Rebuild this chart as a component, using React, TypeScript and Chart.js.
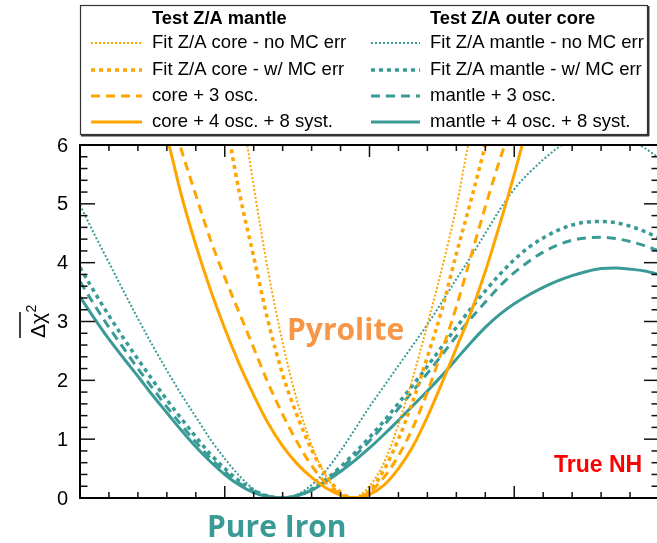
import React, { useEffect, useRef } from 'react';
import { Chart, registerables } from 'chart.js';

Chart.register(...registerables);

// ---------------- data ----------------
const X_MIN = 0;
const X_MAX = 20;
const Y_MIN = 0;
const Y_MAX = 6;
const yTickLabels = ['0', '1', '2', '3', '4', '5', '6'];

const legendHeaders = ['Test Z/A mantle', 'Test Z/A outer core'];
const coreLabels = ['Fit Z/A core - no MC err', 'Fit Z/A core - w/ MC err', 'core + 3 osc.', 'core + 4 osc. + 8 syst.'];
const mantleLabels = ['Fit Z/A mantle - no MC err', 'Fit Z/A mantle - w/ MC err', 'mantle + 3 osc.', 'mantle + 4 osc. + 8 syst.'];

// Test Z/A mantle (orange) curves
const coreNoMcX = [5.6, 5.78, 6.0, 6.5, 7.0, 7.5, 8.0, 8.5, 9.0, 9.4, 10.0, 10.5, 11.0, 11.5, 12.0, 12.5, 13.0, 13.41, 13.7];
const coreNoMcY = [6.6, 6.0, 5.3, 3.85, 2.64, 1.65, 0.9, 0.37, 0.07, 0.0, 0.2, 0.6, 1.25, 2.05, 2.95, 3.9, 4.95, 6.0, 6.6];

const coreMcX = [5.0, 5.2, 5.5, 6.0, 6.5, 7.0, 7.5, 8.0, 8.5, 9.0, 9.45, 10.0, 10.5, 11.0, 11.5, 12.0, 12.5, 13.0, 13.5, 14.0, 14.3];
const coreMcY = [6.6, 6.0, 5.2, 4.1, 3.0, 2.1, 1.4, 0.82, 0.38, 0.1, 0.0, 0.12, 0.48, 1.0, 1.65, 2.4, 3.2, 4.15, 5.05, 6.0, 6.6];

const core3X = [3.2, 3.45, 4.0, 4.5, 5.0, 5.5, 6.0, 6.5, 7.0, 7.5, 8.0, 8.5, 9.0, 9.45, 10.0, 10.5, 11.0, 11.5, 12.0, 12.5, 13.0, 13.5, 14.0, 14.5, 14.7, 15.0];
const core3Y = [6.45, 6.0, 5.15, 4.4, 3.75, 3.15, 2.55, 1.95, 1.42, 0.95, 0.55, 0.25, 0.06, 0.0, 0.1, 0.35, 0.72, 1.2, 1.8, 2.5, 3.25, 4.1, 4.95, 5.75, 6.05, 6.6];

const core4X = [2.8, 3.1, 3.5, 4.0, 4.5, 5.0, 5.5, 6.0, 6.5, 7.0, 7.5, 8.0, 8.5, 9.0, 9.57, 10.0, 10.5, 11.0, 11.5, 12.0, 12.5, 13.0, 13.5, 14.0, 14.5, 15.0, 15.3, 15.6];
const core4Y = [6.5, 5.95, 5.15, 4.3, 3.55, 2.88, 2.28, 1.75, 1.27, 0.88, 0.58, 0.35, 0.17, 0.05, 0.0, 0.06, 0.22, 0.5, 0.88, 1.38, 1.95, 2.55, 3.15, 3.85, 4.65, 5.5, 6.05, 6.6];

// Test Z/A outer core (teal) curves
const mantleX = [0, 0.5, 1, 1.5, 2, 2.5, 3, 3.5, 4, 4.5, 5, 5.5, 6, 6.5, 7, 7.5, 8, 8.5, 9, 9.5, 10, 10.5, 11, 11.5, 12, 12.5, 13, 13.5, 14, 14.5, 15, 15.5, 16, 16.5, 17, 17.5, 18, 18.5, 19, 19.5, 20];
const mantleNoMcY = [4.98, 4.48, 4.0, 3.52, 3.05, 2.6, 2.17, 1.76, 1.38, 1.0, 0.67, 0.38, 0.15, 0.03, 0.0, 0.06, 0.22, 0.47, 0.8, 1.17, 1.55, 1.9, 2.25, 2.6, 2.95, 3.33, 3.72, 4.1, 4.5, 4.9, 5.25, 5.52, 5.75, 5.95, 6.1, 6.2, 6.25, 6.22, 6.1, 5.95, 5.78];
const mantleMcY = [3.92, 3.5, 3.1, 2.72, 2.36, 2.01, 1.67, 1.35, 1.04, 0.75, 0.5, 0.29, 0.13, 0.03, 0.0, 0.04, 0.15, 0.32, 0.53, 0.77, 1.03, 1.31, 1.61, 1.92, 2.24, 2.57, 2.9, 3.22, 3.52, 3.8, 4.05, 4.26, 4.42, 4.55, 4.64, 4.69, 4.7, 4.68, 4.62, 4.53, 4.42];
const mantle3Y = [3.68, 3.28, 2.9, 2.55, 2.2, 1.87, 1.55, 1.24, 0.95, 0.68, 0.45, 0.25, 0.11, 0.03, 0.0, 0.04, 0.14, 0.3, 0.5, 0.72, 0.97, 1.24, 1.52, 1.82, 2.12, 2.43, 2.75, 3.05, 3.33, 3.6, 3.83, 4.02, 4.18, 4.3, 4.38, 4.42, 4.43, 4.41, 4.36, 4.29, 4.2];
const mantle4Y = [3.42, 3.05, 2.7, 2.38, 2.07, 1.75, 1.45, 1.15, 0.87, 0.62, 0.4, 0.22, 0.09, 0.02, 0.0, 0.04, 0.13, 0.28, 0.45, 0.64, 0.85, 1.08, 1.32, 1.57, 1.82, 2.08, 2.36, 2.64, 2.9, 3.12, 3.3, 3.45, 3.58, 3.69, 3.78, 3.85, 3.9, 3.91, 3.89, 3.86, 3.8];

// ---------------- styles ----------------
const ORANGE = '#FFA500';
const TEAL = '#3A9B96';
const FONT = '"Liberation Sans", Arial, Helvetica, sans-serif';

const STYLES = [
  { borderWidth: 2, borderDash: [2, 2] },
  { borderWidth: 3.5, borderDash: [4, 4] },
  { borderWidth: 3, borderDash: [9, 6] },
  { borderWidth: 3, borderDash: [] as number[] },
];

const pts = (xs: number[], ys: number[]) => xs.map((x, i) => ({ x, y: ys[i] }));

const overlayPlugin = {
  id: 'overlay',
  afterDatasetsDraw(chart: any) {
    const { ctx, chartArea, scales } = chart;
    const { left, right, top, bottom } = chartArea;
    const xs = scales.x;
    const ys = scales.y;
    ctx.save();
    const line = (x1: number, y1: number, x2: number, y2: number) => {
      ctx.beginPath();
      ctx.moveTo(x1, y1);
      ctx.lineTo(x2, y2);
      ctx.stroke();
    };
    // ticks
    ctx.strokeStyle = '#111';
    ctx.lineWidth = 1.5;
    for (let v = X_MIN; v <= X_MAX; v++) {
      const px = xs.getPixelForValue(v);
      const len = v % 5 === 0 ? 12 : 6;
      line(px, bottom, px, bottom - len);
      line(px, top, px, top + len);
    }
    const nMinor = Math.round((Y_MAX - Y_MIN) / 0.2);
    for (let i = 0; i <= nMinor; i++) {
      const py = ys.getPixelForValue(Y_MIN + i * 0.2);
      const len = i % 5 === 0 ? 15 : 7.5;
      line(left, py, left + len, py);
      line(right, py, right - len, py);
    }
    // frame
    ctx.lineWidth = 2;
    ctx.strokeStyle = '#000';
    ctx.strokeRect(left, top, right - left, bottom - top);

    // y tick labels
    ctx.fillStyle = '#000';
    ctx.font = `20px ${FONT}`;
    ctx.textAlign = 'right';
    ctx.textBaseline = 'middle';
    yTickLabels.forEach((lab) => {
      ctx.fillText(lab, left - 12, ys.getPixelForValue(Number(lab)) + 1);
    });

    // y title: overline Δχ^2, rotated
    ctx.save();
    ctx.translate(45, 338);
    ctx.rotate(-Math.PI / 2);
    ctx.textAlign = 'left';
    ctx.textBaseline = 'alphabetic';
    ctx.font = `21px ${FONT}`;
    ctx.fillText('Δχ', 0, 0);
    const w = ctx.measureText('Δχ').width;
    ctx.font = `14px ${FONT}`;
    ctx.fillText('2', w + 0.5, -9);
    ctx.lineWidth = 1.5;
    ctx.beginPath();
    ctx.moveTo(0, -25);
    ctx.lineTo(w + 1, -25);
    ctx.stroke();
    ctx.restore();

    // annotations
    ctx.textAlign = 'left';
    ctx.textBaseline = 'alphabetic';
    ctx.font = `bold 30px "Open Sans", ${FONT}`;
    ctx.fillStyle = '#F79646';
    ctx.fillText('Pyrolite', 287, 340);
    ctx.fillStyle = TEAL;
    ctx.fillText('Pure Iron', 207, 537);
    ctx.font = `bold 23px ${FONT}`;
    ctx.fillStyle = '#FF0000';
    ctx.fillText('True NH', 554, 472);

    // legend box
    ctx.strokeStyle = '#333';
    ctx.lineWidth = 1.2;
    ctx.strokeRect(80.5, 5.5, 567, 129);
    ctx.lineWidth = 2;
    line(81, 135.5, 649, 135.5);
    line(648.5, 6, 648.5, 136);

    ctx.fillStyle = '#000';
    ctx.textBaseline = 'middle';
    ctx.font = `bold 18.3px ${FONT}`;
    ctx.fillText(legendHeaders[0], 152, 19);
    ctx.fillText(legendHeaders[1], 430, 19);
    const rowsY = [43, 70, 96, 122];
    const ds = chart.data.datasets;
    const drawSample = (d: any, x1: number, x2: number, y: number) => {
      ctx.save();
      ctx.strokeStyle = d.borderColor;
      ctx.lineWidth = d.borderWidth;
      ctx.setLineDash(d.borderDash || []);
      line(x1, y, x2, y);
      ctx.restore();
    };
    ctx.font = `18.5px ${FONT}`;
    for (let i = 0; i < 4; i++) {
      drawSample(ds[i], 91, 142, rowsY[i]);
      ctx.fillText(coreLabels[i], 152, rowsY[i]);
      drawSample(ds[i + 4], 371, 420, rowsY[i]);
      ctx.fillText(mantleLabels[i], 430, rowsY[i]);
    }
    ctx.restore();
  },
};

export default function App() {
  const ref = useRef<HTMLCanvasElement | null>(null);
  useEffect(() => {
    if (!ref.current) return;
    const coreSeries = [pts(coreNoMcX, coreNoMcY), pts(coreMcX, coreMcY), pts(core3X, core3Y), pts(core4X, core4Y)];
    const mantleSeries = [pts(mantleX, mantleNoMcY), pts(mantleX, mantleMcY), pts(mantleX, mantle3Y), pts(mantleX, mantle4Y)];
    const datasets: any[] = [];
    coreSeries.forEach((data, i) =>
      datasets.push({ label: coreLabels[i], data, borderColor: ORANGE, ...STYLES[i], pointRadius: 0, fill: false, cubicInterpolationMode: 'monotone' })
    );
    mantleSeries.forEach((data, i) =>
      datasets.push({ label: mantleLabels[i], data, borderColor: TEAL, ...STYLES[i], pointRadius: 0, fill: false, cubicInterpolationMode: 'monotone' })
    );
    const chart = new Chart(ref.current, {
      type: 'line',
      data: { datasets },
      options: {
        animation: false,
        responsive: false,
        devicePixelRatio: 1,
        layout: { padding: { left: 80, right: 3, top: 145, bottom: 45 } },
        plugins: { legend: { display: false }, tooltip: { enabled: false } },
        scales: {
          x: { type: 'linear', min: X_MIN, max: X_MAX, display: false },
          y: { type: 'linear', min: Y_MIN, max: Y_MAX, display: false },
        },
      },
      plugins: [overlayPlugin],
    });
    return () => chart.destroy();
  }, []);
  return (
    <div style={{ position: 'absolute', left: 0, top: 0, width: 657, height: 543, overflow: 'hidden', background: '#fff' }}>
      <canvas ref={ref} width={662} height={543} style={{ display: 'block' }} />
    </div>
  );
}
